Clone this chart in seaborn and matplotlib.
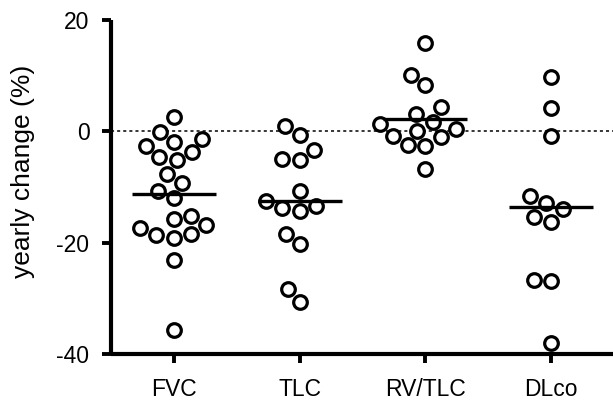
import numpy as np
import pandas as pd
import matplotlib
matplotlib.use("Agg")
import matplotlib.pyplot as plt
import seaborn as sns

categories = ["FVC", "TLC", "RV/TLC", "DLco"]
fvc = [2.6, -0.2, -1.3, -2.6, -2.0, -4.6, -5.2, -3.8, -7.7, -9.3, -10.7,
       -12.0, -15.2, -15.7, -16.8, -17.4, -18.5, -19.1, -18.6, -23.1, -35.6]
tlc = [0.95, -0.66, -3.4, -4.9, -5.2, -10.7, -13.4, -14.3, -13.7, -12.5,
       -18.4, -20.3, -28.3, -30.6]
rvtlc = [15.9, 10.2, 8.4, 4.3, 3.1, 1.3, 1.6, 0.1, 0.4, -0.8, -1.1, -2.5,
         -2.6, -6.8]
dlco = [9.7, 4.2, -0.8, -11.6, -12.8, -14.0, -15.4, -16.3, -26.7, -26.9, -38.1]
yticks = [-40, -20, 0, 20]
ylabel = "yearly change (%)"

series = [fvc, tlc, rvtlc, dlco]
df = pd.DataFrame({
    "var": np.concatenate([[c] * len(s) for c, s in zip(categories, series)]),
    "val": np.concatenate(series),
})

sns.set_theme(style="ticks")
plt.rcParams["font.family"] = ["Liberation Sans", "DejaVu Sans"]
plt.rcParams["axes.unicode_minus"] = False

fig = plt.figure(figsize=(6.13, 4.01), dpi=100)
ax = fig.add_axes([111 / 613, 47 / 401, 503 / 613, 334 / 401])

ax.axhline(0, color="black", lw=1.1, ls=(0, (2, 2)), zorder=1)

sns.swarmplot(data=df, x="var", y="val", order=categories, ax=ax,
              color="white", edgecolor="black", linewidth=2.3, size=9.8,
              zorder=3)
sns.pointplot(data=df, x="var", y="val", order=categories, ax=ax,
              estimator="mean", errorbar=None, linestyle="none",
              marker="_", markersize=60, markeredgewidth=2.4,
              color="black", zorder=4)

ax.set_xlim(-0.5, 3.5)
ax.set_ylim(-40, 20)
ax.set_yticks(yticks)
ax.set_xlabel("")
ax.set_ylabel(ylabel, fontsize=19, color="black")
ax.yaxis.set_label_coords(-0.151, 0.548)
ax.tick_params(axis="both", labelsize=16.5, width=2.8, length=6.5,
               color="black", labelcolor="black")
ax.tick_params(axis="y", pad=9)
ax.tick_params(axis="x", pad=11)
for s in ["top", "right"]:
    ax.spines[s].set_visible(False)
for s in ["left", "bottom"]:
    ax.spines[s].set_linewidth(3)
    ax.spines[s].set_color("black")
    ax.spines[s].set_capstyle("butt")

fig.savefig("out.png", dpi=100)
